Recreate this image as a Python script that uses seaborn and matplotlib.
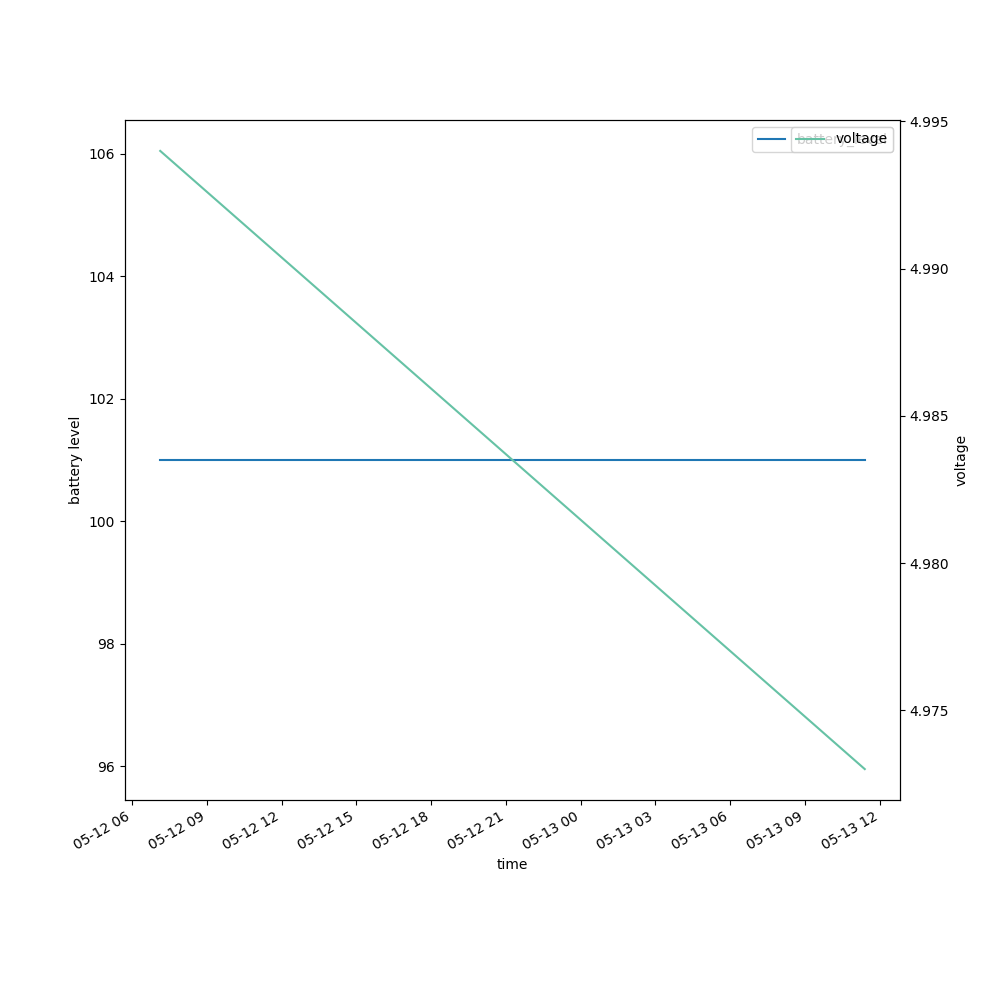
import pandas as pd
import matplotlib
matplotlib.use('Agg')
import matplotlib.pyplot as plt
import seaborn as sns

# data
times = pd.to_datetime(['2023-05-12 07:08', '2023-05-13 11:24'])
battery_level = [101, 101]
voltage = [4.994, 4.973]

df = pd.DataFrame({'time': times, 'battery_level': battery_level, 'voltage': voltage})

fig, ax = plt.subplots(figsize=(10, 10))
sns.lineplot(data=df, x='time', y='battery_level', ax=ax, label='battery_level')
ax.set_ylabel('battery level')
ax.set_xlabel('time')
ax.legend(loc='upper right')

ax2 = ax.twinx()
sns.lineplot(data=df, x='time', y='voltage', ax=ax2, label='voltage',
             color=sns.color_palette('Set2')[0])
ax2.set_ylabel('voltage')
ax2.legend(loc='upper right')

fig.autofmt_xdate()
plt.savefig('out.png')
